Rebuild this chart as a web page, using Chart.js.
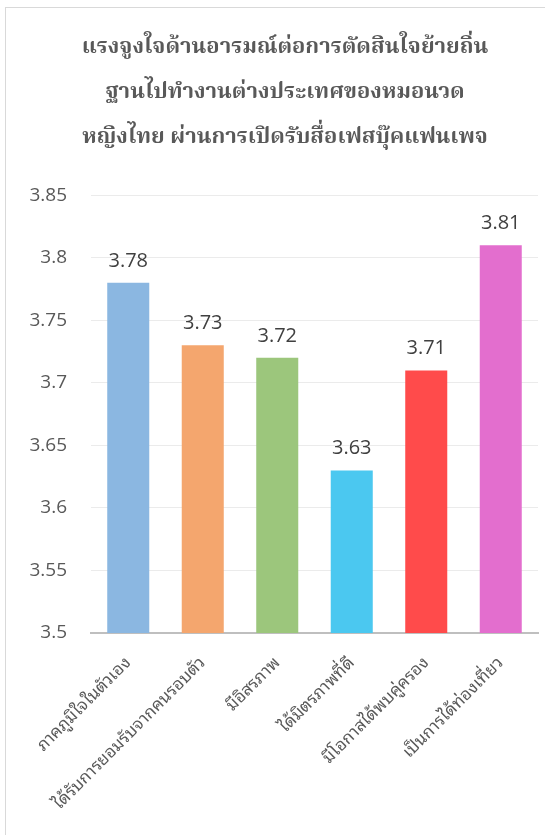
<!DOCTYPE html>
<html>
<head>
<meta charset="utf-8">
<script src="https://cdn.jsdelivr.net/npm/chart.js@4.4.1/dist/chart.umd.min.js"></script>
<style>
  html, body { margin: 0; padding: 0; background: #fff; overflow: hidden; }
  #frame { position: absolute; left: 5px; top: 7px; width: 600px; height: 900px; border: 1.5px solid #d9d9d9; }
  #c { position: absolute; left: 0; top: 0; }
</style>
</head>
<body>
<div id="frame"></div>
<canvas id="c" width="570" height="835"></canvas>
<script>
// Chart data
const titleLines = [
  'แรงจูงใจด้านอารมณ์ต่อการตัดสินใจย้ายถิ่น',
  'ฐานไปทำงานต่างประเทศของหมอนวด',
  'หญิงไทย ผ่านการเปิดรับสื่อเฟสบุ๊คแฟนเพจ'
];
const categories = [
  'ภาคภูมิใจในตัวเอง',
  'ได้รับการยอมรับจากคนรอบตัว',
  'มีอิสรภาพ',
  'ได้มิตรภาพที่ดี',
  'มีโอกาสได้พบคู่ครอง',
  'เป็นการได้ท่องเที่ยว'
];
const scores = [3.78, 3.73, 3.72, 3.63, 3.71, 3.81];
const barColors = ['#8BB7E1', '#F4A66E', '#9CC67C', '#4BC8F0', '#FF4B4B', '#E36ECE'];
const yMin = 3.5;
const yMax = 3.85;
const yStep = 0.05;

const titleFont = "'Noto Serif Thai', 'Noto Sans Thai Looped', 'Noto Sans Thai', serif";
const labelFont = "'Noto Sans Thai Looped', 'Noto Serif Thai', 'Noto Sans Thai', sans-serif";
const numFont = "'Open Sans', 'Liberation Sans', sans-serif";

// value labels above bars
const valueLabels = {
  id: 'valueLabels',
  afterLayout(chart) {
    // center the title on the whole canvas, not only the padded area
    if (chart.titleBlock) chart.titleBlock.right = chart.width;
  },
  afterDatasetsDraw(chart) {
    const ctx = chart.ctx;
    const meta = chart.getDatasetMeta(0);
    ctx.save();
    ctx.fillStyle = '#404040';
    ctx.font = '20px ' + numFont;
    ctx.textAlign = 'center';
    ctx.textBaseline = 'alphabetic';
    meta.data.forEach((bar, i) => {
      ctx.fillText(scores[i].toFixed(2), bar.x, bar.y - 16);
    });
    ctx.restore();
  }
};

new Chart(document.getElementById('c'), {
  type: 'bar',
  data: {
    labels: categories,
    datasets: [{
      data: scores,
      backgroundColor: barColors,
      categoryPercentage: 1,
      barPercentage: 0.564
    }]
  },
  options: {
    responsive: false,
    animation: false,
    layout: { padding: { left: 0, right: 32, top: 0, bottom: 0 } },
    plugins: {
      legend: { display: false },
      tooltip: { enabled: false },
      title: {
        display: true,
        text: titleLines,
        color: '#595959',
        font: { family: titleFont, size: 22, weight: 'bold', lineHeight: 2.05 },
        padding: { top: 27, bottom: 33 }
      }
    },
    scales: {
      x: {
        grid: { display: false },
        border: { color: '#bfbfbf', width: 2 },
        ticks: {
          color: '#595959',
          font: { family: labelFont, size: 17 },
          minRotation: 45,
          maxRotation: 45,
          padding: 12
        },
        afterFit(scale) { scale.height = 202; }
      },
      y: {
        min: yMin,
        max: yMax,
        border: { display: false },
        grid: { color: '#ebebeb', drawTicks: false },
        ticks: {
          stepSize: yStep,
          color: '#595959',
          font: { family: numFont, size: 19 },
          padding: 24,
          callback: v => String(parseFloat(v.toFixed(2)))
        },
        afterFit(scale) { scale.width = 91; }
      }
    }
  },
  plugins: [valueLabels]
});
</script>
</body>
</html>
